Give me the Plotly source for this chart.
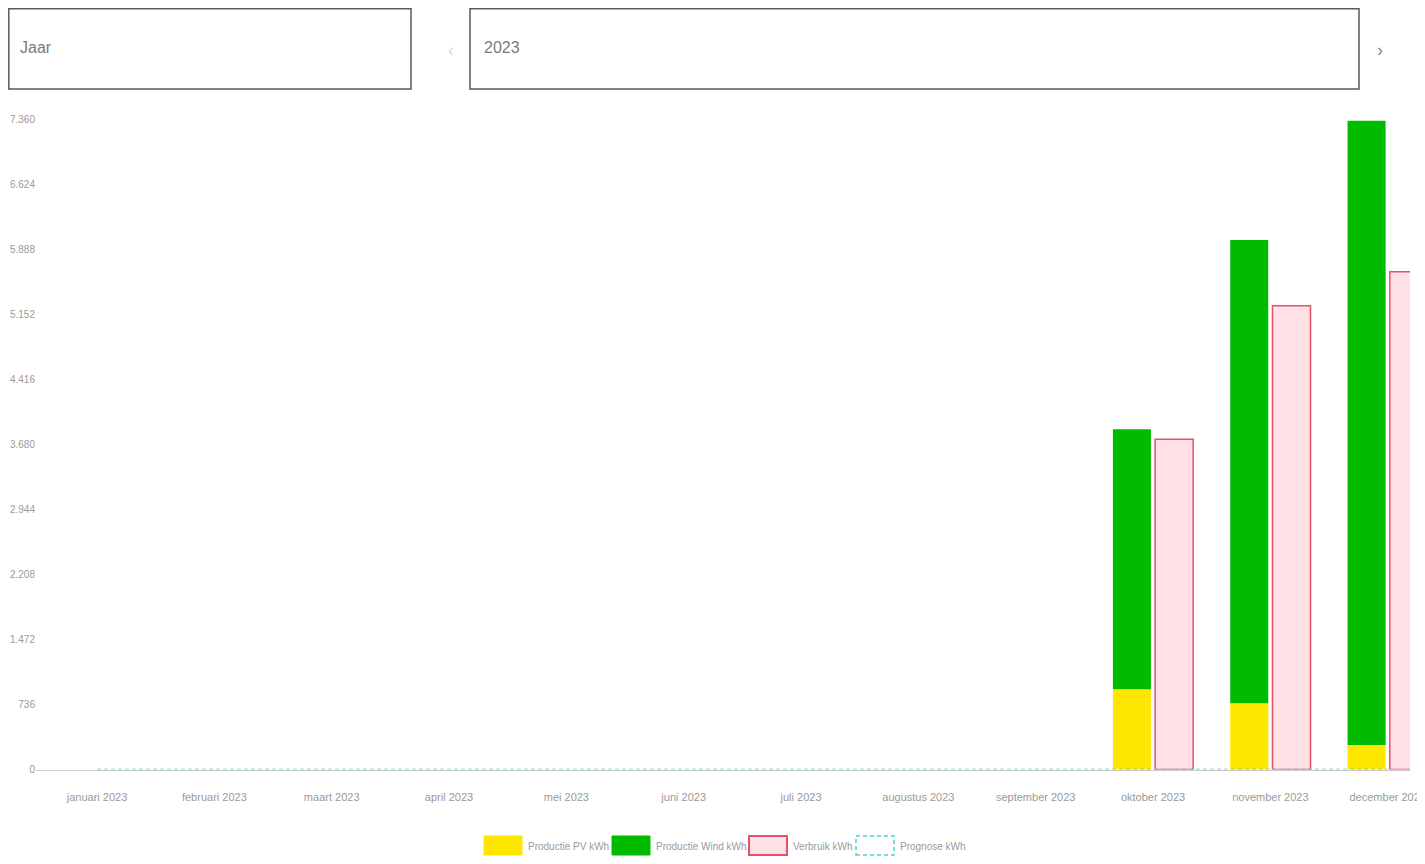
import plotly.graph_objects as go

months = ["januari 2023", "februari 2023", "maart 2023", "april 2023", "mei 2023", "juni 2023",
          "juli 2023", "augustus 2023", "september 2023", "oktober 2023", "november 2023", "december 2023"]
pv_kwh = [None, None, None, None, None, None, None, None, None, 907, 749, 277]
wind_kwh = [None, None, None, None, None, None, None, None, None, 2942, 5242, 7064]
verbruik_kwh = [None, None, None, None, None, None, None, None, None, 3736, 5247, 5632]
prognose_kwh = [0, 0, 0, 0, 0, 0, 0, 0, 0, 0, 0, 0]

# page body has an 8px margin, so the figure is placed at (8, 8)
OFF = 8
W, H = 1425 - 2 * OFF, 864 - 2 * OFF
FONT = "Liberation Sans, Arial, sans-serif"
GREY = "#9a9a9a"


def px(x):
    return (x - OFF) / W


def py(y):
    return 1 - (y - OFF) / H


fig = go.Figure()
fig.add_trace(go.Bar(x=months, y=pv_kwh, name="Productie PV kWh", offsetgroup="prod",
                     marker=dict(color="#FFE600", line=dict(width=0))))
fig.add_trace(go.Bar(x=months, y=wind_kwh, base=pv_kwh, name="Productie Wind kWh", offsetgroup="prod",
                     marker=dict(color="#00BB00", line=dict(width=0))))
fig.add_trace(go.Bar(x=months, y=verbruik_kwh, name="Verbruik kWh", offsetgroup="verb",
                     marker=dict(color="#FFE1E6", line=dict(color="#E8506A", width=1.5))))
fig.add_trace(go.Scatter(x=months, y=prognose_kwh, name="Prognose kWh", mode="lines",
                         line=dict(color="#45D6D2", width=1.5, dash="4px,3px")))

# header boxes (Jaar / 2023 selectors)
shapes = [
    dict(type="rect", xref="paper", yref="paper", x0=px(8.8), x1=px(411), y0=py(89), y1=py(8.8),
         line=dict(color="#5a5a5a", width=1.5)),
    dict(type="rect", xref="paper", yref="paper", x0=px(470), x1=px(1359), y0=py(89), y1=py(8.8),
         line=dict(color="#5a5a5a", width=1.5)),
]
annotations = [
    dict(text="Jaar", x=px(18), y=py(47), xref="paper", yref="paper", xanchor="left", yanchor="middle",
         showarrow=False, font=dict(family=FONT, size=16, color="#7a7a7a")),
    dict(text="2023", x=px(482), y=py(47), xref="paper", yref="paper", xanchor="left", yanchor="middle",
         showarrow=False, font=dict(family=FONT, size=16, color="#7a7a7a")),
    dict(text="‹", x=px(446), y=py(38), xref="paper", yref="paper", showarrow=False,
         font=dict(family=FONT, size=18, color="#dddddd")),
    dict(text="›", x=px(1385), y=py(38), xref="paper", yref="paper", showarrow=False,
         font=dict(family=FONT, size=18, color="#888888")),
]

# chart.js style legend at the bottom
legend_names = ["Productie PV kWh", "Productie Wind kWh", "Verbruik kWh", "Prognose kWh"]
legend_fill = ["#FFE600", "#00BB00", "#FFE1E6", "rgba(0,0,0,0)"]
legend_line = [dict(color="#FFE600", width=1), dict(color="#00BB00", width=1),
               dict(color="#E8506A", width=2), dict(color="#45D6D2", width=1.5, dash="4px,3px")]
legend_x = [484, 612, 749, 856]
for name, fill, line, lx in zip(legend_names, legend_fill, legend_line, legend_x):
    shapes.append(dict(type="rect", xref="paper", yref="paper", x0=px(lx), x1=px(lx + 38),
                       y0=py(855), y1=py(836), fillcolor=fill, line=line))
    annotations.append(dict(text=name, x=px(lx + 42), y=py(846), xref="paper", yref="paper",
                            xanchor="left", yanchor="middle", showarrow=False,
                            font=dict(family=FONT, size=10, color=GREY)))

fig.update_layout(
    width=W, height=H,
    margin=dict(l=0, r=0, t=0, b=0),
    paper_bgcolor="white", plot_bgcolor="white",
    barmode="group", bargap=0.28, bargroupgap=0.1,
    separators=",.",
    showlegend=False,
    font=dict(family=FONT, size=11, color=GREY),
    shapes=shapes,
    annotations=annotations,
    xaxis=dict(domain=[px(36), px(1410)], range=[-0.52, 11.19], showgrid=False, zeroline=False,
               showline=True, linecolor="#cccccc", linewidth=1, ticks="", ticklabelstandoff=17,
               automargin=False, tickfont=dict(size=11, color=GREY)),
    yaxis=dict(domain=[py(769.5), py(119)], range=[0, 7360], tick0=0, dtick=736, tickformat=",d",
               showgrid=False, zeroline=False, showline=False, ticks="", automargin=False,
               tickfont=dict(size=10, color=GREY)),
)

fig.write_html("out.html")
